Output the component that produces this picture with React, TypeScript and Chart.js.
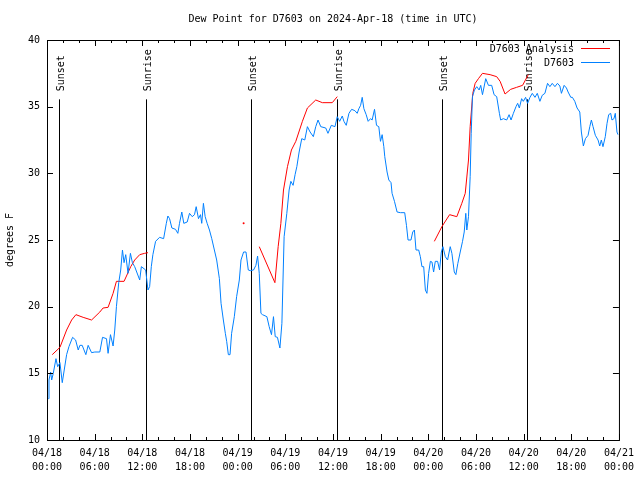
import React, { useEffect, useRef } from "react";
import { Chart, registerables } from "chart.js";

Chart.register(...registerables);

// Hours since 04/18 00:00 UTC
const obsHours = [0.16,0.25,0.46,0.59,0.79,1.13,1.34,1.63,1.92,2.13,2.47,2.76,3.22,3.60,3.93,4.14,4.43,4.89,5.18,5.61,6.02,6.65,6.99,7.49,7.69,7.99,8.32,8.53,8.74,9.03,9.28,9.50,9.70,9.91,10.20,10.50,10.75,11.04,11.67,11.88,12.42,12.71,12.92,13.13,13.33,13.67,14.17,14.68,15.02,15.22,15.43,15.72,16.18,16.47,16.68,16.97,17.22,17.65,17.94,18.28,18.57,18.78,19.07,19.32,19.48,19.69,19.91,20.16,20.45,20.74,21.07,21.36,21.70,21.91,22.20,22.45,22.62,22.83,23.04,23.24,23.58,23.87,24.21,24.42,24.75,25.05,25.34,25.59,26.00,26.30,26.51,26.72,26.93,27.13,27.68,27.97,28.26,28.51,28.73,29.01,29.32,29.57,29.85,30.19,30.48,30.70,30.98,31.23,31.45,31.74,32.07,32.45,32.78,33.12,33.53,33.83,34.12,34.46,35.09,35.37,35.79,36.25,36.54,36.84,37.17,37.38,37.67,38.01,38.35,38.76,39.05,39.26,39.48,39.68,39.89,40.18,40.43,40.73,40.93,41.23,41.48,41.77,41.98,42.19,42.40,42.52,42.81,43.03,43.31,43.44,43.74,44.07,44.49,45.03,45.25,45.45,45.82,46.04,46.25,46.45,46.79,47.00,47.20,47.42,47.63,47.83,48.04,48.26,48.46,48.67,48.88,49.17,49.42,49.64,49.84,50.14,50.43,50.76,50.97,51.27,51.47,51.72,52.02,52.31,52.52,52.72,52.85,53.06,53.27,53.40,53.56,53.81,54.10,54.40,54.60,54.82,55.23,55.57,55.98,56.28,56.61,56.95,57.11,57.45,57.87,58.17,58.42,58.71,59.04,59.25,59.46,59.75,59.96,60.25,60.50,60.80,61.09,61.43,61.72,62.05,62.34,62.68,63.01,63.31,63.60,63.94,64.26,64.56,64.76,65.10,65.39,65.60,65.94,66.14,66.44,66.73,67.07,67.27,67.52,67.78,68.11,68.33,68.53,68.74,69.03,69.37,69.58,69.78,69.99,70.28,70.50,70.71,70.96,71.12,71.37,71.54,71.75,71.88];
const obsValues = [13.1,14.5,15.1,14.5,15.0,16.1,15.5,15.8,14.3,15.1,16.4,17.0,17.7,17.5,16.75,17.1,17.1,16.4,17.1,16.55,16.6,16.6,17.7,17.6,16.5,17.9,17.05,18.25,20.0,21.8,22.75,24.25,23.3,23.9,22.5,24.0,23.3,23.0,22.0,23.0,22.75,21.25,21.5,23.0,23.9,24.9,25.2,25.1,26.25,26.8,26.6,25.9,25.8,25.5,26.25,27.1,26.25,26.35,27.0,26.75,26.9,27.5,26.6,26.9,26.25,27.75,26.75,26.25,25.75,25.1,24.25,23.5,22.1,20.25,19.0,18.0,17.4,16.4,16.4,18.0,19.25,20.75,22.0,23.5,24.1,24.1,22.75,22.7,22.75,23.1,23.8,22.5,19.5,19.4,19.25,18.5,17.9,19.25,17.75,17.7,16.9,18.75,25.25,27.0,28.75,29.4,29.1,29.9,30.5,31.6,32.6,32.5,33.5,33.1,32.75,33.5,34.0,33.5,33.4,33.0,33.6,33.5,34.25,33.9,34.3,33.9,33.6,34.5,34.8,34.7,34.5,34.85,35.1,35.7,34.85,34.4,33.9,34.1,34.0,34.8,33.6,33.5,32.4,32.9,32.0,31.25,30.1,29.5,29.3,28.5,27.9,27.1,27.05,27.05,26.1,25.0,25.0,25.6,25.75,24.25,24.25,23.75,23.0,23.0,21.25,21.0,22.5,23.4,23.35,22.6,23.4,23.4,22.75,24.1,24.5,23.75,23.5,24.5,24.0,22.6,22.4,23.25,24.1,24.9,25.6,27.0,25.75,26.75,29.75,33.0,35.75,36.25,36.5,36.25,36.6,35.9,37.1,36.6,36.6,35.9,35.75,34.5,34.0,34.1,34.0,34.4,34.0,34.5,35.0,35.25,34.9,35.6,35.4,35.7,35.25,35.7,36.0,35.7,36.0,35.4,35.85,36.0,36.75,36.5,36.75,36.5,36.75,36.55,36.0,36.6,36.4,36.1,35.7,35.7,35.4,34.9,34.6,33.1,32.05,32.6,32.85,33.5,34.0,33.5,32.85,32.5,32.05,32.5,32.0,32.75,33.75,34.4,34.5,34.0,34.1,34.5,33.1,32.9];

const analysisHours = [0.66,1.63,2.47,3.10,3.64,4.55,5.61,6.65,7.06,7.69,8.32,8.74,9.70,10.54,11.04,11.67,12.29,12.71,18.0,24.75,25.5,26.72,28.69,29.10,29.44,29.77,30.27,30.77,31.32,32.15,32.78,33.83,34.66,35.91,36.54,42.0,48.76,49.71,50.68,51.59,52.22,52.65,53.06,53.27,53.60,53.90,54.31,54.82,55.78,56.61,57.04,57.66,58.37,59.12,59.87,60.59];
const analysisValues = [16.4,16.95,18.25,19.0,19.4,19.2,19.0,19.6,19.9,19.95,21.0,21.9,21.9,23.0,23.5,23.9,24.0,24.05,null,26.25,null,24.5,21.8,24.5,26.25,28.75,30.5,31.75,32.4,33.9,34.9,35.5,35.3,35.3,35.75,null,24.9,26.0,26.9,26.75,27.75,28.5,31.0,33.5,36.0,36.75,37.1,37.5,37.4,37.25,36.9,35.95,36.3,36.45,36.6,37.4];

const sunHours = [1.55, 12.5, 25.65, 36.52, 49.7, 60.48];
const sunLabels = ["Sunset", "Sunrise", "Sunset", "Sunrise", "Sunset", "Sunrise"];
const sunLineTop = 35.55;

const dateLabels = ["04/18","04/18","04/18","04/18","04/19","04/19","04/19","04/19","04/20","04/20","04/20","04/20","04/21"];
const timeLabels = ["00:00","06:00","12:00","18:00","00:00","06:00","12:00","18:00","00:00","06:00","12:00","18:00","00:00"];

const titleText = "Dew Point for D7603 on 2024-Apr-18 (time in UTC)";
const yTitle = "degrees F";
const seriesNames = ["D7603 Analysis", "D7603"];
const RED = "#ff0000";
const BLUE = "#0080ff";
const FONT = "DejaVu Sans Mono";

const decorPlugin = {
  id: "decor",
  beforeDatasetsDraw(chart: any) {
    const { ctx, chartArea: a, scales } = chart;
    const x = scales.x, y = scales.y;
    ctx.save();
    ctx.strokeStyle = "#000";
    ctx.lineWidth = 1;
    ctx.fillStyle = "#000";
    ctx.font = `10px "${FONT}"`;
    const topPx = y.getPixelForValue(sunLineTop);
    sunHours.forEach((t, i) => {
      const px = Math.round(x.getPixelForValue(t)) + 0.5;
      ctx.beginPath();
      ctx.moveTo(px, topPx);
      ctx.lineTo(px, a.bottom);
      ctx.stroke();
      ctx.save();
      ctx.translate(px + 1.5, topPx - 8);
      ctx.rotate(-Math.PI / 2);
      ctx.textAlign = "left";
      ctx.textBaseline = "middle";
      ctx.fillText(sunLabels[i], 0, 0);
      ctx.restore();
    });
    ctx.restore();
  },
  afterDatasetsDraw(chart: any) {
    const { ctx, chartArea: a, scales } = chart;
    const x = scales.x, y = scales.y;
    ctx.save();
    ctx.strokeStyle = "#000";
    ctx.lineWidth = 1;
    // frame
    ctx.strokeRect(a.left + 0.5, a.top + 0.5, a.right - a.left, a.bottom - a.top);
    // x ticks
    for (let h = 0; h <= 72; h += 2) {
      const px = Math.round(x.getPixelForValue(h)) + 0.5;
      const len = h % 6 === 0 ? 6 : 3;
      ctx.beginPath();
      ctx.moveTo(px, a.bottom);
      ctx.lineTo(px, a.bottom - len);
      ctx.moveTo(px, a.top);
      ctx.lineTo(px, a.top + len);
      ctx.stroke();
    }
    for (let v = 10; v <= 40; v += 5) {
      const py = Math.round(y.getPixelForValue(v)) + 0.5;
      ctx.beginPath();
      ctx.moveTo(a.left, py);
      ctx.lineTo(a.left + 6, py);
      ctx.moveTo(a.right, py);
      ctx.lineTo(a.right - 6, py);
      ctx.stroke();
    }
    // title
    ctx.fillStyle = "#000";
    ctx.font = `10px "${FONT}"`;
    ctx.textAlign = "center";
    ctx.textBaseline = "middle";
    ctx.fillText(titleText, (a.left + a.right) / 2, 19);
    // y title
    ctx.save();
    ctx.translate(10, (a.top + a.bottom) / 2);
    ctx.rotate(-Math.PI / 2);
    ctx.fillText(yTitle, 0, 0);
    ctx.restore();
    // legend
    const colors = [RED, BLUE];
    seriesNames.forEach((name, i) => {
      const ly = 49 + i * 14;
      ctx.fillStyle = "#000";
      ctx.textAlign = "right";
      ctx.fillText(name, 574, ly);
      ctx.strokeStyle = colors[i];
      ctx.beginPath();
      ctx.moveTo(581, ly - 0.5);
      ctx.lineTo(610, ly - 0.5);
      ctx.stroke();
    });
    ctx.restore();
  },
};

export default function App() {
  const ref = useRef<HTMLCanvasElement>(null);
  useEffect(() => {
    if (!ref.current) return;
    const obs = obsHours.map((h, i) => ({ x: h, y: obsValues[i] }));
    const ana = analysisHours.map((h, i) => ({ x: h, y: analysisValues[i] }));
    const isolated = (i: number) =>
      analysisValues[i] != null &&
      (i === 0 || analysisValues[i - 1] == null) &&
      (i === analysisValues.length - 1 || analysisValues[i + 1] == null);
    const chart = new Chart(ref.current, {
      type: "line",
      data: {
        datasets: [
          {
            label: seriesNames[0],
            data: ana as any,
            borderColor: RED,
            backgroundColor: RED,
            borderWidth: 1,
            pointRadius: (c: any) => (isolated(c.dataIndex) ? 1 : 0),
            pointBorderWidth: 0,
            spanGaps: false,
            order: 1,
          },
          {
            label: seriesNames[1],
            data: obs as any,
            borderColor: BLUE,
            backgroundColor: BLUE,
            borderWidth: 1,
            pointRadius: 0,
            order: 0,
          },
        ],
      },
      options: {
        animation: false,
        responsive: false,
        layout: { padding: { top: 40, right: 19, left: 0, bottom: 0 } },
        plugins: { legend: { display: false }, title: { display: false }, tooltip: { enabled: false } },
        scales: {
          x: {
            type: "linear",
            min: 0,
            max: 72,
            afterFit: (s: any) => { s.height = 40; },
            grid: { display: false, drawTicks: false },
            border: { display: false },
            ticks: {
              stepSize: 6,
              autoSkip: false,
              maxRotation: 0,
              padding: 6,
              color: "#000",
              font: { family: FONT, size: 10, lineHeight: 1.4 },
              callback: (v: any) => {
                const i = Math.round(Number(v) / 6);
                return [dateLabels[i], timeLabels[i]];
              },
            },
          },
          y: {
            min: 10,
            max: 40,
            afterFit: (s: any) => { s.width = 47; },
            grid: { display: false, drawTicks: false },
            border: { display: false },
            ticks: {
              stepSize: 5,
              padding: 7,
              color: "#000",
              font: { family: FONT, size: 10 },
            },
          },
        },
      },
      plugins: [decorPlugin],
    });
    return () => chart.destroy();
  }, []);
  return (
    <div style={{ position: "fixed", left: 0, top: 0, width: 640, height: 480, background: "#fff" }}>
      <canvas ref={ref} width={640} height={480} />
    </div>
  );
}
